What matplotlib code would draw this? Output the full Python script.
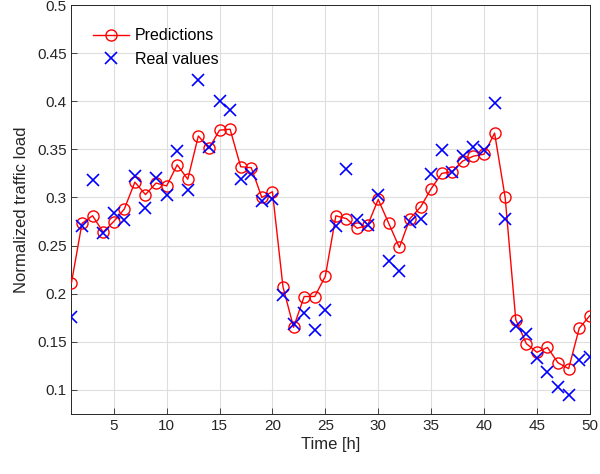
import numpy as np
import matplotlib
matplotlib.use("Agg")
import matplotlib.pyplot as plt

# hours 1..50
hours = list(range(1, 51))

predictions = [
    0.211, 0.273, 0.281, 0.264, 0.275, 0.288, 0.316, 0.303, 0.315, 0.312,
    0.334, 0.319, 0.364, 0.351, 0.370, 0.371, 0.332, 0.331, 0.300, 0.306,
    0.207, 0.165, 0.197, 0.197, 0.218, 0.281, 0.278, 0.268, 0.271, 0.298,
    0.273, 0.248, 0.278, 0.290, 0.309, 0.325, 0.327, 0.338, 0.343, 0.345,
    0.367, 0.300, 0.173, 0.148, 0.139, 0.144, 0.128, 0.122, 0.164, 0.177,
]

real_values = [
    0.176, 0.270, 0.318, 0.263, 0.284, 0.277, 0.322, 0.289, 0.320, 0.303,
    0.348, 0.308, 0.422, 0.352, 0.400, 0.391, 0.319, 0.324, 0.296, 0.298,
    0.199, 0.168, 0.180, 0.162, 0.183, 0.270, 0.330, 0.277, 0.271, 0.303,
    0.234, 0.224, 0.275, 0.278, 0.324, 0.349, 0.326, 0.343, 0.352, 0.349,
    0.398, 0.278, 0.166, 0.158, 0.133, 0.118, 0.103, 0.095, 0.131, 0.134,
]

x_ticks = [5, 10, 15, 20, 25, 30, 35, 40, 45, 50]
y_ticks = [0.1, 0.15, 0.2, 0.25, 0.3, 0.35, 0.4, 0.45, 0.5]
y_tick_labels = ["0.1", "0.15", "0.2", "0.25", "0.3", "0.35", "0.4", "0.45", "0.5"]

plt.rcParams["font.family"] = ["Liberation Sans", "DejaVu Sans"]
text_col = "#262626"

fig = plt.figure(figsize=(6.0, 4.74), dpi=100)
ax = fig.add_axes([0.119, 0.127, 0.864, 0.862])

ax.plot(hours, predictions, color="red", linewidth=1.0, marker="o",
        markersize=8, markerfacecolor="none", markeredgewidth=1.0,
        label="Predictions", zorder=3)
ax.plot(hours, real_values, linestyle="none", color="blue", marker="x",
        markersize=9, markeredgewidth=1.2, label="Real values", zorder=4)

ax.set_xlim(1, 50)
ax.set_ylim(0.075, 0.5)
ax.set_xticks(x_ticks)
ax.set_yticks(y_ticks)
ax.set_yticklabels(y_tick_labels)

ax.grid(True, color="#dedede", linewidth=0.8)
ax.set_axisbelow(True)
ax.tick_params(direction="in", length=4, width=0.6, colors=text_col,
               labelsize=11, top=False, right=False)
for s in ax.spines.values():
    s.set_color(text_col)
    s.set_linewidth(0.7)

ax.set_xlabel("Time [h]", fontsize=12, color=text_col, labelpad=3)
ax.set_ylabel("Normalized traffic load", fontsize=12, color=text_col, labelpad=6)

# legend without box, placed like the original
leg = ax.legend(loc="upper left", frameon=False, fontsize=11.5,
                handlelength=2.3, handletextpad=0.35, borderpad=0,
                borderaxespad=0, labelspacing=0.55,
                bbox_to_anchor=(0.041, 0.944))
for t in leg.get_texts():
    t.set_color("black")

fig.savefig("out.png", dpi=100)
